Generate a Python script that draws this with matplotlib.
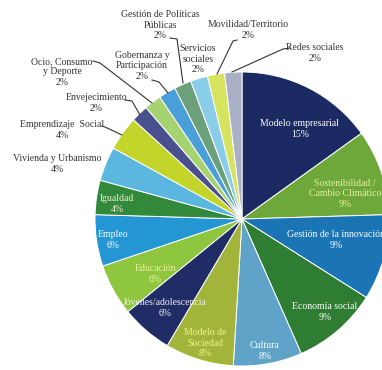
import matplotlib
matplotlib.use("Agg")
import matplotlib.pyplot as plt

# datos: número de iniciativas por temática (total 53)
temas = [
    "Modelo empresarial", "Sostenibilidad /\nCambio Climático", "Gestión de la innovación",
    "Economía social", "Cultura", "Modelo de\nSociedad", "Jóvenes/adolescencia",
    "Educación", "Empleo", "Igualdad", "Vivienda y Urbanismo", "Emprendizaje  Social",
    "Envejecimiento", "Ocio, Consumo\ny Deporte", "Gobernanza y\nParticipación",
    "Gestión de Políticas\nPúblicas", "Servicios\nsociales", "Movilidad/Territorio",
    "Redes sociales",
]
conteos = [8, 5, 5, 5, 4, 4, 3, 3, 3, 2, 2, 2, 1, 1, 1, 1, 1, 1, 1]

colores = [
    "#1b2a63", "#6ea83a", "#1b75b5", "#2f7d32", "#5fa3c8", "#a3b43a", "#1f2c66",
    "#8ec63f", "#2596d4", "#33893b", "#5bb6e0", "#c3d52b", "#4a4f8e", "#a6d371",
    "#4a9fd8", "#6ba07a", "#8acde9", "#d6e35e", "#a9b0c6",
]

W, H = 382, 370


def px(x, y):
    # coordenadas de píxel (origen arriba-izquierda) -> datos
    return x, H - y


# posición de cada etiqueta (en píxeles) y color del texto
pos_etiquetas = [
    (300, 129), (345, 194), (336, 240), (325, 312), (265, 351), (205, 343),
    (165, 308), (155, 274), (113, 240), (117, 204), (57, 164), (62, 130),
    (96, 103), (62, 72), (142, 66), (160, 25), (198, 59), (248, 30), (315, 53),
]
color_texto = [
    "white", "#e8efa0", "white", "white", "white", "#f3f38a", "#f0f0f0",
    "#f0f0a0", "white", "#eef0d0",
] + ["#333333"] * 9

lineas_guia = [
    None, None, None, None, None, None, None, None, None, None, None,
    [(102, 126), (105, 127), (122, 135)],
    [(125, 100), (132, 101), (140, 115)],
    [(93, 61), (100, 63), (152, 103)],
    [(152, 80), (159, 82), (168, 93)],
    [(170, 38), (177, 39), (183, 83)],
    None,
    [(237, 40), (233, 41), (217, 74)],
    [(290, 48), (283, 49), (232, 72)],
]

fig = plt.figure(figsize=(W / 100, H / 100), dpi=100)
ax = fig.add_axes([0, 0, 1, 1])

ax.pie(
    conteos,
    colors=colores,
    startangle=90,
    counterclock=False,
    center=px(242, 219),
    radius=147,
    wedgeprops={"edgecolor": "white", "linewidth": 0.7},
)

total = sum(conteos)
for tema, n, (x, y), c in zip(temas, conteos, pos_etiquetas, color_texto):
    pct = round(100 * n / total)
    ax.text(*px(x, y), f"{tema}\n{pct}%", ha="center", va="center",
            fontsize=7, color=c, family="Liberation Serif", linespacing=1.15)

for linea in lineas_guia:
    if linea is None:
        continue
    xs = [p[0] for p in linea]
    ys = [H - p[1] for p in linea]
    ax.plot(xs, ys, color="#333333", lw=0.8)

ax.set_xlim(0, W)
ax.set_ylim(0, H)
ax.set_aspect("equal")
ax.axis("off")

fig.savefig("out.png", dpi=100)
